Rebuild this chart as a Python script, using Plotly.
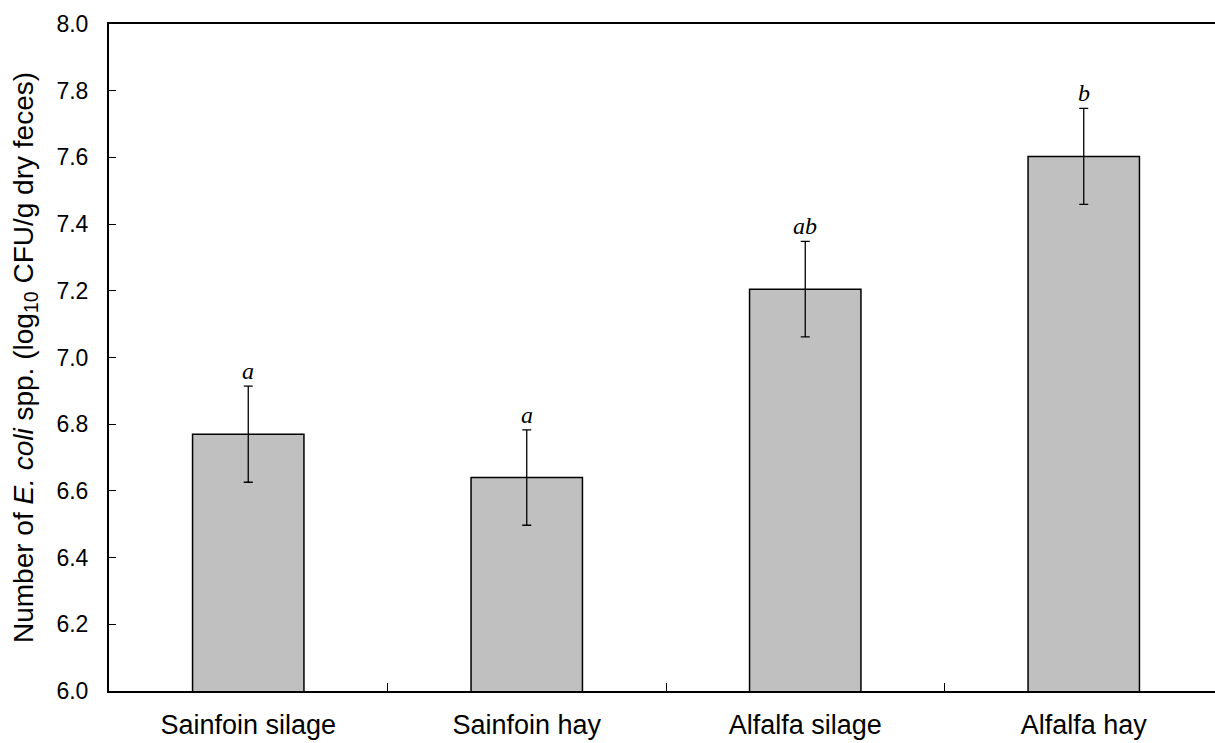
import plotly.graph_objects as go

# Fecal E. coli counts by forage treatment
treatments = ["Sainfoin silage", "Sainfoin hay", "Alfalfa silage", "Alfalfa hay"]
mean_log_cfu = [6.77, 6.64, 7.205, 7.603]
std_error = [0.144, 0.143, 0.143, 0.144]
letters = ["a", "a", "ab", "b"]

y_ticks = [6.0, 6.2, 6.4, 6.6, 6.8, 7.0, 7.2, 7.4, 7.6, 7.8, 8.0]

sans = "Liberation Sans, Arial, sans-serif"
serif = "Liberation Serif, Times New Roman, serif"

fig = go.Figure()
fig.add_trace(go.Bar(
    x=treatments,
    y=mean_log_cfu,
    base=0,
    marker=dict(color="#c0c0c0", line=dict(color="#000000", width=1.5)),
    error_y=dict(type="data", array=std_error, visible=True,
                 color="#000000", thickness=1.3, width=4.5),
    showlegend=False,
))

# Significance letters above each error bar
for t, m, se, lab in zip(treatments, mean_log_cfu, std_error, letters):
    fig.add_annotation(
        x=t, y=m + se, text=f"<i>{lab}</i>", showarrow=False,
        yanchor="bottom", yshift=0,
        font=dict(family=serif, size=24, color="#000000"),
    )

fig.update_layout(
    width=1215, height=743,
    margin=dict(l=109, r=0, t=24, b=52),
    paper_bgcolor="white", plot_bgcolor="white",
    bargap=0.6,
    font=dict(family=sans, size=23, color="#000000"),
    xaxis=dict(
        range=[-0.5, 3.5 - 8 / 278.5],
        showline=True, linecolor="#000000", linewidth=2, mirror=True,
        ticks="inside", tickson="boundaries", ticklen=8, tickwidth=1.3, tickcolor="#000000",
        ticklabelstandoff=9,
        showgrid=False, zeroline=False,
        tickfont=dict(family=sans, size=27, color="#000000"),
    ),
    yaxis=dict(
        range=[6.0, 8.0], tickvals=y_ticks, tickformat=".1f",
        showline=True, linecolor="#000000", linewidth=2,
        ticks="inside", ticklen=7, tickwidth=1.3, tickcolor="#000000",
        ticklabelstandoff=14,
        showgrid=False, zeroline=False,
        tickfont=dict(family=sans, size=23, color="#000000"),
        title=dict(
            text="Number of <i>E. coli</i> spp. (log<sub>10</sub> CFU/g dry feces)",
            font=dict(family=sans, size=28, color="#000000"), standoff=15,
        ),
    ),
)

fig.write_html("out.html")
